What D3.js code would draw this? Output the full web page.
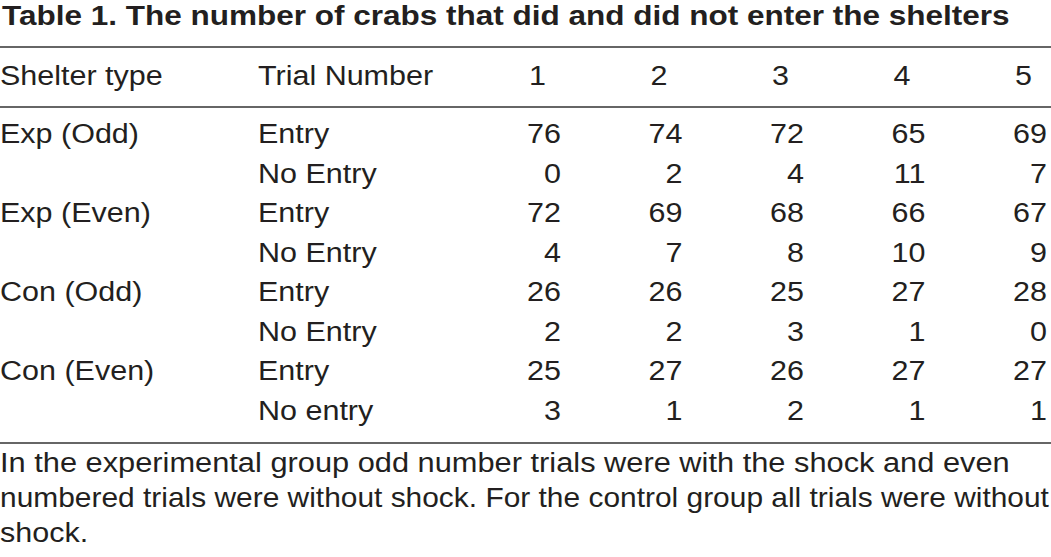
<!DOCTYPE html>
<html>
<head>
<meta charset="utf-8">
<script src="https://cdn.jsdelivr.net/npm/d3@7"></script>
<style>
  html, body { margin: 0; padding: 0; background: #fff; }
  svg { display: block; }
  text { font-family: "Liberation Sans", Arial, Helvetica, sans-serif; fill: #231f20; }
</style>
</head>
<body>
<svg id="chart" width="1051" height="557"></svg>
<script>
// ---- data ----
const title = "Table 1. The number of crabs that did and did not enter the shelters";
const headerLabels = ["Shelter type", "Trial Number"];
const trials = [1, 2, 3, 4, 5];
const shelterTypes = ["Exp (Odd)", "Exp (Even)", "Con (Odd)", "Con (Even)"];
const outcomeLabels = ["Entry", "No Entry", "Entry", "No Entry", "Entry", "No Entry", "Entry", "No entry"];
const expOddEntry = [76, 74, 72, 65, 69];
const expOddNoEntry = [0, 2, 4, 11, 7];
const expEvenEntry = [72, 69, 68, 66, 67];
const expEvenNoEntry = [4, 7, 8, 10, 9];
const conOddEntry = [26, 26, 25, 27, 28];
const conOddNoEntry = [2, 2, 3, 1, 0];
const conEvenEntry = [25, 27, 26, 27, 27];
const conEvenNoEntry = [3, 1, 2, 1, 1];
const footnoteLines = [
  "In the experimental group odd number trials were with the shock and even",
  "numbered trials were without shock. For the control group all trials were without",
  "shock."
];

const rows = [expOddEntry, expOddNoEntry, expEvenEntry, expEvenNoEntry,
              conOddEntry, conOddNoEntry, conEvenEntry, conEvenNoEntry];

// ---- layout ----
const svg = d3.select("#chart");
const W = 1051;
const fs = 28, sx = 1.09;

const x = d3.scalePoint().domain(trials).range([529, 1015]);
const y = d3.scalePoint().domain(d3.range(rows.length)).range([143, 420]);
const numWidth = 32;

function addText(str, tx, ty, anchor, opts = {}) {
  const g = svg.append("g").attr("transform", `translate(${tx},${ty}) scale(${opts.sx || sx},1)`);
  const t = g.append("text")
    .attr("text-anchor", anchor || "start")
    .style("font-size", (opts.fs || fs) + "px")
    .style("font-weight", opts.bold ? "bold" : "normal")
    .text(str);
  return t;
}
function fitWidth(t, tx, ty, target) {
  const w = t.node().getComputedTextLength();
  t.node().parentNode.setAttribute("transform", `translate(${tx},${ty}) scale(${target / w},1)`);
}

// title, fitted to width
const tt = addText(title, 2, 25, "start", { bold: true, fs: 27, sx: 1 });
fitWidth(tt, 2, 25, 1008);

// rules
const rules = [47, 107, 443];
svg.selectAll("line.rule").data(rules).enter().append("line")
  .attr("class", "rule")
  .attr("x1", 0).attr("x2", W)
  .attr("y1", d => d).attr("y2", d => d)
  .attr("stroke", "#333").attr("stroke-width", 1.6);

// header
addText(headerLabels[0], 0, 85);
addText(headerLabels[1], 258, 85);
trials.forEach(t => addText(String(t), x(t), 85));

// body
shelterTypes.forEach((s, i) => addText(s, 0, y(i * 2)));
outcomeLabels.forEach((s, i) => addText(s, 258, y(i)));
rows.forEach((r, i) => {
  r.forEach((v, j) => addText(String(v), x(trials[j]) + numWidth, y(i), "end"));
});

// footnote
const fy = [472, 507, 542];
const fw = [1010, 1049, null];
footnoteLines.forEach((s, i) => {
  const t = addText(s, 0, fy[i], "start", { sx: 1 });
  if (fw[i]) fitWidth(t, 0, fy[i], fw[i]);
  else t.node().parentNode.setAttribute("transform", `translate(0,${fy[i]}) scale(${sx},1)`);
});
</script>
</body>
</html>
